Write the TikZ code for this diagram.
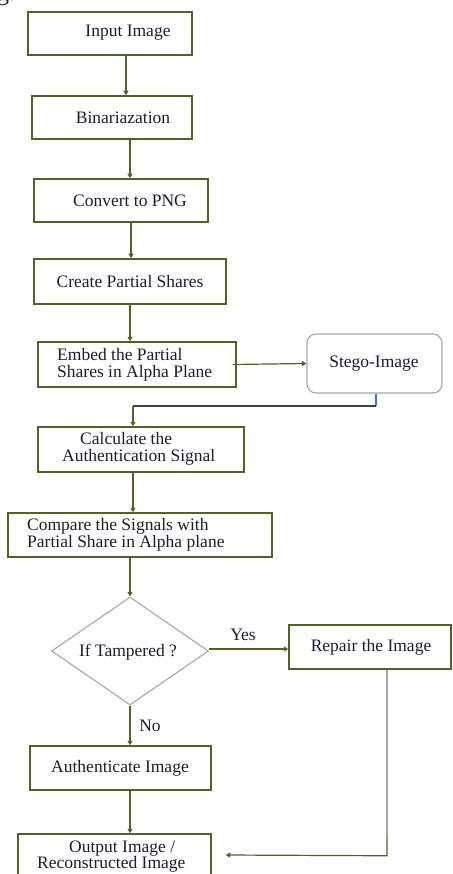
\documentclass[tikz,border=0pt]{standalone}
\usepackage{fontspec}
\setmainfont{Liberation Serif}
\usetikzlibrary{shapes.geometric,arrows.meta}
\definecolor{olive}{HTML}{4F6228}
\definecolor{lgray}{HTML}{A6A6A6}
\definecolor{txtc}{HTML}{1C1C30}
\definecolor{lblue}{HTML}{4472C4}
\definecolor{dgray}{HTML}{404040}
\tikzset{
  box/.style={draw=olive,line width=1.5pt,rectangle,inner sep=0pt,fill=white},
  gbox/.style={draw=lgray,line width=1.1pt,rectangle,rounded corners=9pt,inner sep=0pt,fill=white},
  dia/.style={draw=lgray,line width=1.1pt,diamond,inner sep=0pt,fill=white},
  txt/.style={text=txtc,font=\fontsize{17.5}{16.5}\selectfont,inner sep=0pt},
  arr/.style={draw=olive,line width=1.2pt,-{Triangle[width=5pt,length=4.5pt]}},
  ln/.style={line width=1.2pt}
}
\begin{document}
\begin{tikzpicture}[x=1pt,y=-1pt]
\useasboundingbox (0,0) rectangle (452,874);
\node[txt,anchor=base west,font=\fontsize{24}{24}\selectfont] (frag) at (-3,1) {g.};
% boxes
\node[box,minimum width=164,minimum height=43] (input) at (110,33.5) {};
\node[txt] (tinput) at (128,33) {Input Image};
\node[box,minimum width=160,minimum height=43] (bin) at (112,117.5) {};
\node[txt] (tbin) at (123,118) {Binariazation};
\node[box,minimum width=174,minimum height=43] (png) at (121,200.5) {};
\node[txt] (tpng) at (130,201) {Convert to PNG};
\node[box,minimum width=192,minimum height=45] (create) at (130,281.5) {};
\node[txt] (tcreate) at (130,282) {Create Partial Shares};
\node[box,minimum width=198,minimum height=45] (embed) at (137,364.5) {};
\node[txt,anchor=west,align=left] (tembed) at (57,365) {Embed the Partial\\Shares in Alpha Plane};
\node[gbox,minimum width=135,minimum height=59] (stego) at (374.5,363.5) {};
\node[txt] (tstego) at (374,364) {Stego-Image};
\node[box,minimum width=206,minimum height=45] (calc) at (141,449.5) {};
\node[txt,anchor=west,align=left] (tcalc) at (62,449) {\hspace*{18pt}Calculate the\\Authentication Signal};
\node[box,minimum width=264,minimum height=44] (compare) at (140,535) {};
\node[txt,anchor=west,align=left] (tcompare) at (27,535) {Compare the Signals with\\Partial Share in Alpha plane};
\node[dia,minimum width=157,minimum height=108] (tamp) at (130,651) {};
\node[txt] (ttamp) at (128,652) {If Tampered ?};
\node[box,minimum width=162,minimum height=44] (repair) at (370,647) {};
\node[txt] (trepair) at (371,647) {Repair the Image};
\node[box,minimum width=181,minimum height=44] (auth) at (120.5,768) {};
\node[txt] (tauth) at (120,768) {Authenticate Image};
\node[box,minimum width=193,minimum height=44] (output) at (114.5,856) {};
\node[txt,anchor=west,align=left] (toutput) at (37,856.5) {\hspace*{32pt}Output Image /\\Reconstructed Image};
% labels
\node[txt] (yes) at (243,635) {Yes};
\node[txt] (no) at (150,726) {No};
% connectors
\draw[arr] ([xshift=16pt]input.south) -- ([xshift=14pt]bin.north);
\draw[arr] ([xshift=18pt]bin.south) -- ([xshift=9pt]png.north);
\draw[arr] ([xshift=10pt]png.south) -- ([xshift=1pt]create.north);
\draw[arr] (create.south) -- ([xshift=-7pt]embed.north);
\draw[arr] ([xshift=-4pt]embed.east) -- (stego.west);
\coordinate (s1) at ([xshift=1.5pt,yshift=-12.5pt]stego.south);
\coordinate (s2) at ([xshift=-8pt]calc.north |- s1);
\draw[ln,draw=lblue] ([xshift=1.5pt]stego.south) -- (s1);
\draw[ln,draw=dgray] (s1) -- (s2);
\draw[arr] (s2) -- ([xshift=-8pt]calc.north);
\draw[arr] ([xshift=-8pt]calc.south) -- ([xshift=-7pt]compare.north);
\draw[arr] ([xshift=-10pt]compare.south) -- (tamp.north);
\draw[arr] ([yshift=2pt]tamp.east) -- ([yshift=2pt]tamp.east -| repair.west);
\draw[arr] (tamp.south) -- (tamp.south |- auth.north);
\draw[arr] ([xshift=9.5pt]auth.south) -- ([xshift=9.5pt]auth.south |- output.north);
\coordinate (r0) at ([xshift=17pt]repair.south);
\coordinate (r1) at ([yshift=-167pt]r0);
\coordinate (r2) at ([yshift=-186pt]r0);
\coordinate (r3) at ([xshift=14pt,yshift=1pt]output.east);
\draw[ln,draw=lgray] (r0) -- (r1);
\draw[arr] (r1) -- (r2) -- (r3);
\end{tikzpicture}
\end{document}
